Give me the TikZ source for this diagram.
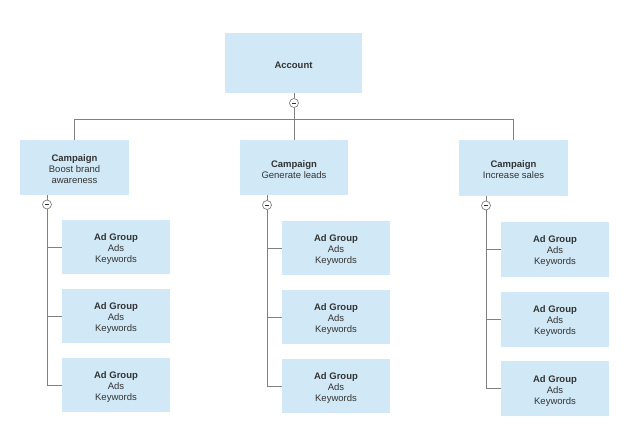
\documentclass[tikz,border=0pt]{standalone}
\usepackage{fontspec}
\setmainfont{Liberation Sans}
\newcommand\mytstr{\rule{0pt}{11pt}}
\begin{document}
\begin{tikzpicture}[x=1pt,y=-1pt,
  box/.style={draw=none,fill=boxblue,inner sep=0pt,align=center,text=txtgray,font=\fontsize{9.5}{11}\selectfont},
  toggle/.style={circle,draw=linegray,fill=white,minimum size=9pt,inner sep=0pt,line width=0.7pt,
    path picture={\draw[line width=0.8pt,black!80] ([xshift=-2.2pt]path picture bounding box.center) -- ([xshift=2.2pt]path picture bounding box.center);}},
  conn/.style={draw=linegray,line width=0.8pt}]
\definecolor{boxblue}{RGB}{209,233,246}
\definecolor{linegray}{RGB}{128,128,128}
\definecolor{txtgray}{RGB}{51,51,51}
\useasboundingbox[fill=white] (0,0) rectangle (631,442);

\node[box,minimum width=137pt,minimum height=60pt] (acc) at (293.5,63) {\mytstr\textbf{Account}};
\node[toggle] (c0) at (294,103) {};

\node[box,minimum width=109pt,minimum height=55pt] (cp1) at (74.5,167.5) {\mytstr\textbf{Campaign}\\Boost brand\\awareness};
\node[box,minimum width=108pt,minimum height=55pt] (cp2) at (294,167.5) {\mytstr\textbf{Campaign}\\Generate leads};
\node[box,minimum width=109pt,minimum height=56pt] (cp3) at (513.5,168) {\mytstr\textbf{Campaign}\\Increase sales};

\node[toggle] (t1) at (47,204.5) {};
\node[toggle] (t2) at (267,205) {};
\node[toggle] (t3) at (486,205.5) {};

\coordinate (bar) at (0,119);

% ad groups
\foreach \n/\x/\ya/\yb/\yc/\h in {1/116/247/316/385/54, 2/336/248/317/386/54, 3/555/249/319/388.5/55}{
  \node[box,minimum width=108pt,minimum height=\h pt] (ag\n a) at (\x,\ya) {\mytstr\textbf{Ad Group}\\Ads\\Keywords};
  \node[box,minimum width=108pt,minimum height=\h pt] (ag\n b) at (\x,\yb) {\mytstr\textbf{Ad Group}\\Ads\\Keywords};
  \node[box,minimum width=108pt,minimum height=\h pt] (ag\n c) at (\x,\yc) {\mytstr\textbf{Ad Group}\\Ads\\Keywords};
}

\draw[conn] (c0.north) -- (c0.north |- acc.south);
\draw[conn] (c0.south) -- (c0.south |- bar);
\draw[conn] (cp1.north) -- (cp1.north |- bar) -- (cp3.north |- bar) -- (cp3.north);
\draw[conn] (cp2.north |- bar) -- (cp2.north);

\foreach \n in {1,2,3}{
  \draw[conn] (t\n.north) -- (t\n.north |- cp\n.south);
  \draw[conn] (t\n.south) |- (ag\n c.west);
  \draw[conn] (t\n.south |- ag\n a.west) -- (ag\n a.west);
  \draw[conn] (t\n.south |- ag\n b.west) -- (ag\n b.west);
}
\end{tikzpicture}
\end{document}
